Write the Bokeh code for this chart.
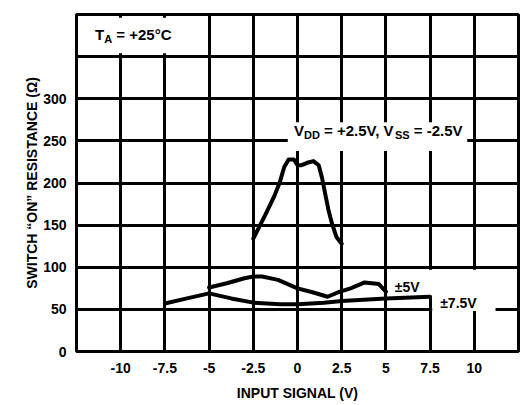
from bokeh.plotting import figure
from bokeh.models import FixedTicker, Range1d
from bokeh.core.properties import value
from bokeh.embed import file_html
from bokeh.resources import INLINE

# ---------------- data ----------------
x_ticks = [-10, -7.5, -5, -2.5, 0, 2.5, 5, 7.5, 10]
x_tick_labels = ["-10", "-7.5", "-5", "-2.5", "0", "2.5", "5", "7.5", "10"]
y_ticks = [0, 50, 100, 150, 200, 250, 300]
y_tick_labels = ["0", "50", "100", "150", "200", "250", "300"]
x_grid = [-10, -7.5, -5, -2.5, 0, 2.5, 5, 7.5, 10]
y_grid = [50, 100, 150, 200, 250, 300, 350]

# VDD = +2.5V, VSS = -2.5V
vin_25 = [-2.5, -1.8, -1.3, -1.0, -0.75, -0.5, -0.2, 0.0, 0.2, 0.55, 0.9, 1.2, 1.4, 1.55, 1.75, 1.95, 2.2, 2.5]
ron_25 = [134, 163, 185, 201, 219, 228, 228, 221, 221, 224, 226, 221, 205, 189, 168, 152, 136, 128]
# +/-5V
vin_5 = [-5.0, -4.0, -3.0, -2.5, -2.0, -1.1, 0.0, 0.9, 1.7, 2.4, 3.0, 3.8, 4.6, 5.0]
ron_5 = [76, 81, 87, 89, 89, 85, 75, 70, 65, 71, 75, 82, 80, 71]
# +/-7.5V
vin_75 = [-7.5, -6.25, -5.0, -3.75, -2.5, -1.0, 0.0, 1.5, 2.5, 5.0, 7.5]
ron_75 = [57, 63, 69, 63, 58, 56, 56, 58, 60, 63, 65]

x_title = "INPUT SIGNAL (V)"
y_title = "SWITCH \u201cON\u201d RESISTANCE (\u03a9)"

# ---------------- figure ----------------
FONT = "Liberation Sans"
p = figure(width=520, height=405, x_range=Range1d(-12.5, 12.5), y_range=Range1d(0, 400),
           output_backend="svg", toolbar_location=None,
           min_border_left=76, min_border_right=2, min_border_top=14, min_border_bottom=54)
p.background_fill_color = "white"
p.border_fill_color = "white"
p.outline_line_color = "black"
p.outline_line_width = 3

for g, ticks in ((p.xgrid, x_grid), (p.ygrid, y_grid)):
    g.ticker = FixedTicker(ticks=ticks)
    g.grid_line_color = "black"
    g.grid_line_width = 3
    g.grid_line_alpha = 1.0

p.xaxis.ticker = FixedTicker(ticks=x_ticks)
p.xaxis.major_label_overrides = {t: l for t, l in zip(x_ticks, x_tick_labels)}
p.yaxis.ticker = FixedTicker(ticks=y_ticks)
p.yaxis.major_label_overrides = {t: l for t, l in zip(y_ticks, y_tick_labels)}
p.xaxis.axis_label = x_title
p.yaxis.axis_label = y_title
for ax in (p.xaxis[0], p.yaxis[0]):
    ax.axis_line_color = None
    ax.major_tick_line_color = None
    ax.minor_tick_line_color = None
    ax.major_tick_out = 0
    ax.major_tick_in = 0
    ax.minor_tick_out = 0
    ax.minor_tick_in = 0
    ax.major_label_text_font = FONT
    ax.major_label_text_font_style = "bold"
    ax.major_label_text_font_size = "14px"
    ax.major_label_text_color = "black"
    ax.axis_label_text_font = FONT
    ax.axis_label_text_font_style = "bold"
    ax.axis_label_text_font_size = "14px"
    ax.axis_label_text_color = "black"
p.xaxis.major_label_standoff = 11
p.xaxis.axis_label_standoff = 9
p.yaxis.major_label_standoff = 10
p.yaxis.axis_label_standoff = 0

# white label backgrounds (interrupt the grid)
p.quad(left=[-12.3, -0.55, 5.3, 7.62], right=[-5.2, 9.6, 7.62, 11.2],
       bottom=[354, 238, 64, 48], top=[396, 272, 97, 97],
       fill_color="white", line_color=None)

# curves
for xs, ys in ((vin_75, ron_75), (vin_5, ron_5), (vin_25, ron_25)):
    p.line(xs, ys, line_width=4, line_color="black", line_join="round", line_cap="round")

# ---------------- rich text helper ----------------
W = {"T": .611, "A": .722, " ": .278, "V": .667, "D": .722, "S": .667, "=": .584, "+": .584,
     "-": .333, ".": .278, ",": .278, "\u00b0": .400, "C": .722, "\u00b1": .584}
def width(s, size):
    return sum(W.get(ch, .556) for ch in s) * size

def rich(x, y, pieces, main=15, sub=11):
    off = 0.0
    for txt, is_sub in pieces:
        size = sub if is_sub else main
        stripped = txt.lstrip(" ")
        off += width(txt[:len(txt) - len(stripped)], main)
        p.text(x=[x], y=[y], text=[stripped], x_offset=off, y_offset=4 if is_sub else 0,
               text_font=value(FONT), text_font_style="bold", text_font_size=f"{size}px",
               text_color="black", text_align="left", text_baseline="middle")
        off += width(stripped, size)

rich(-11.45, 376, [("T", False), ("A", True), (" = +25\u00b0C", False)])
rich(-0.2, 262, [("V", False), ("DD", True), (" = +2.5V, V", False), ("SS", True), (" = -2.5V", False)])
rich(5.5, 77, [("\u00b15V", False)], main=14)
rich(8.07, 58, [("\u00b17.5V", False)], main=14)

open("out.html", "w").write(file_html(p, INLINE))
